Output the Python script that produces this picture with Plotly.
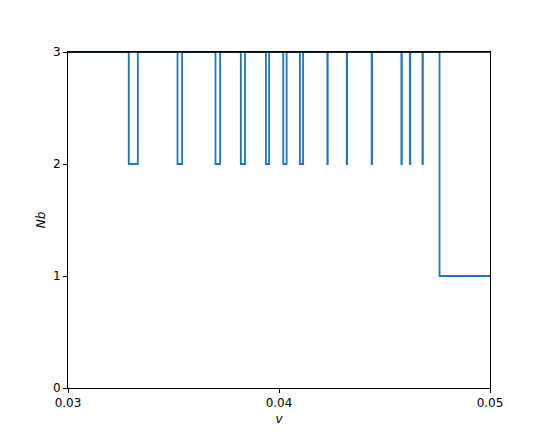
import plotly.graph_objects as go

# step breakpoints (left edge of each level) and the level that starts there
v_edges = [0.03, 0.03288, 0.03331, 0.03519, 0.03541, 0.03699, 0.03721,
           0.03819, 0.03839, 0.03938, 0.03953, 0.04020, 0.04036,
           0.04099, 0.04114, 0.04229, 0.04231, 0.04321, 0.04323,
           0.04439, 0.04441, 0.04580, 0.04582, 0.04620, 0.04622,
           0.04680, 0.04682, 0.04761, 0.05]
nb_levels = [3, 2, 3, 2, 3, 2, 3,
             2, 3, 2, 3, 2, 3,
             2, 3, 2, 3, 2, 3,
             2, 3, 2, 3, 2, 3,
             2, 3, 1, 1]

x_ticks = [0.03, 0.04, 0.05]
x_tick_labels = ["0.03", "0.04", "0.05"]
y_ticks = [0, 1, 2, 3]

fig = go.Figure()
fig.add_trace(go.Scatter(
    x=v_edges, y=nb_levels, mode="lines", line_shape="hv",
    line=dict(color="#1f77b4", width=1.8), showlegend=False,
))

axis_style = dict(
    showline=True, mirror=True, linecolor="black", linewidth=1,
    showgrid=False, zeroline=False, ticks="outside", ticklen=4,
    tickwidth=1, tickcolor="black",
    tickfont=dict(family="DejaVu Sans", size=12, color="black"),
)

fig.update_xaxes(range=[0.03, 0.05], tickvals=x_ticks, ticktext=x_tick_labels,
                 title=dict(text="<i>v</i>", font=dict(family="DejaVu Sans", size=12, color="black"), standoff=5),
                 **axis_style)
fig.update_yaxes(range=[0, 3], tickvals=y_ticks,
                 title=dict(text="<i>Nb</i>", font=dict(family="DejaVu Sans", size=12, color="black"), standoff=4),
                 **axis_style)

# top spine drawn over the line, like matplotlib
fig.add_shape(type="line", xref="paper", yref="paper", x0=0, x1=1, y0=1, y1=1,
              line=dict(color="black", width=1.6), layer="above")

# page body has an 8px margin, so offset the plot area back
fig.update_layout(
    width=545, height=436, template="plotly_white",
    plot_bgcolor="white", paper_bgcolor="white",
    margin=dict(l=60, r=63, t=44, b=56),
)

fig.write_html("out.html")
